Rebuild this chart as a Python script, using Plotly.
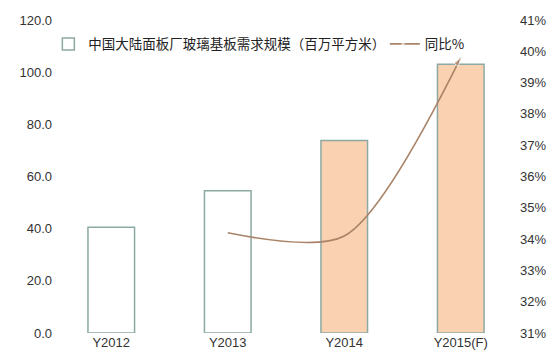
import plotly.graph_objects as go

categories = ["Y2012", "Y2013", "Y2014", "Y2015(F)"]
demand = [40.5, 54.5, 73.8, 103.0]
yoy_categories = ["Y2013", "Y2014", "Y2015(F)"]
yoy = [34.2, 34.1, 39.8]
bar_fills = ["#FFFFFF", "#FFFFFF", "#FAD1B1", "#FAD1B1"]
left_ticks = [0, 20, 40, 60, 80, 100, 120]
right_ticks = list(range(31, 42))

font_family = "Liberation Sans, Arial, Noto Sans CJK SC, sans-serif"
legend_font = dict(family="Noto Sans CJK SC, sans-serif", size=13.5, color="#222222")

fig = go.Figure()
fig.add_trace(go.Bar(
    x=categories, y=demand, name="中国大陆面板厂玻璃基板需求规模（百万平方米）",
    marker=dict(color=bar_fills, line=dict(color="#8CAAA3", width=1.5)),
    width=0.4, legend="legend",
))
fig.add_trace(go.Scatter(
    x=yoy_categories, y=yoy, name="同比%", yaxis="y2", mode="lines+markers",
    line=dict(color="#A98468", width=1.6, shape="spline", smoothing=0.8),
    marker=dict(symbol="arrow", angleref="previous", size=[0, 0, 9], color="#A98468"),
    legend="legend2",
))

fig.update_layout(
    width=552, height=357,
    margin=dict(l=53, r=33, t=20, b=24, autoexpand=False),
    paper_bgcolor="white", plot_bgcolor="white",
    font=dict(family=font_family, size=13, color="#333333"),
    showlegend=True,
    legend=dict(orientation="h", x=-0.01, y=0.923, xanchor="left", yanchor="middle",
                font=legend_font, itemwidth=30, bgcolor="rgba(0,0,0,0)"),
    legend2=dict(orientation="h", x=0.712, y=0.923, xanchor="left", yanchor="middle",
                 font=legend_font, itemwidth=30, bgcolor="rgba(0,0,0,0)"),
    xaxis=dict(showgrid=False, showline=False, ticks="", range=[-0.5, 3.5], automargin=False,
               tickfont=dict(size=13, color="#333333")),
    yaxis=dict(range=[0, 120], tickvals=left_ticks, automargin=False,
               ticktext=[f"{v:.1f}" for v in left_ticks],
               showgrid=False, zeroline=False, showline=False, ticks=""),
    yaxis2=dict(range=[31, 41], tickvals=right_ticks, automargin=False,
                ticktext=[f"{v}%" for v in right_ticks], overlaying="y", side="right",
                showgrid=False, zeroline=False, showline=False, ticks=""),
)

fig.write_html("out.html")
